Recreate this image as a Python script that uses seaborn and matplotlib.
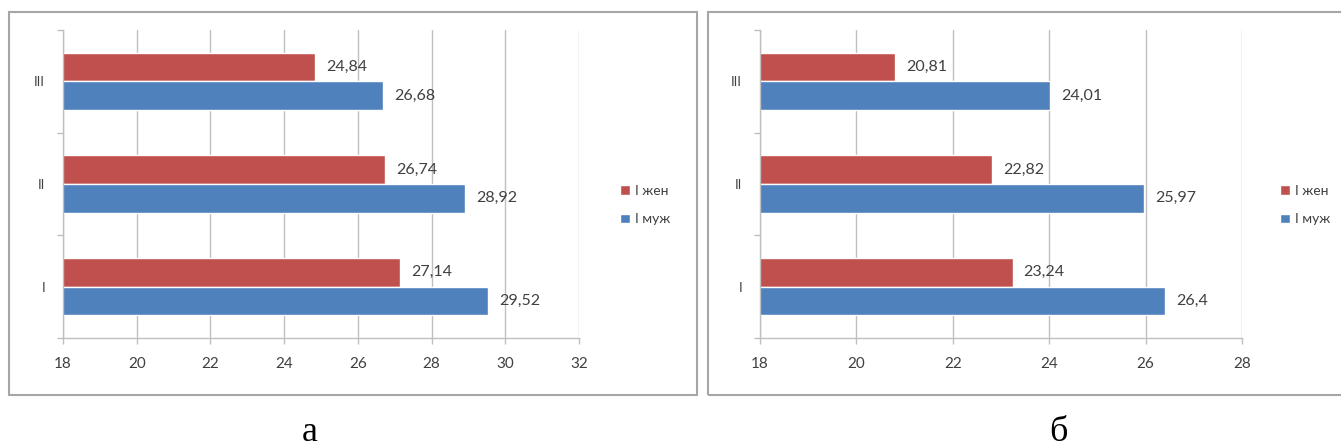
import matplotlib
matplotlib.use("Agg")
import matplotlib.pyplot as plt
import seaborn as sns
import pandas as pd
from matplotlib.patches import Rectangle
from matplotlib.ticker import FixedLocator

# ---- data ----
categories = ["III", "II", "I"]
series_names = ["I жен", "I муж"]
a_women = [24.84, 26.74, 27.14]
a_men = [26.68, 28.92, 29.52]
b_women = [20.81, 22.82, 23.24]
b_men = [24.01, 25.97, 26.4]
a_ticks = [18, 20, 22, 24, 26, 28, 30, 32]
b_ticks = [18, 20, 22, 24, 26, 28]
panel_labels = ["а", "б"]

RED = "#C0504D"
BLUE = "#4F81BD"
GRID = "#BFBFBF"
TXT = "#404040"

sns.set_theme(style="white")
plt.rcParams["font.family"] = ["Lato", "DejaVu Sans"]

W, H = 1341, 448
fig = plt.figure(figsize=(W / 100, H / 100), dpi=100)


def fx(px):
    return px / W


def fy(py):
    return 1 - py / H


def make_df(women, men):
    rows = []
    for c, w, m in zip(categories, women, men):
        rows.append({"cat": c, "series": series_names[0], "value": w})
        rows.append({"cat": c, "series": series_names[1], "value": m})
    return pd.DataFrame(rows)


def fmt(v):
    return ("%g" % v).replace(".", ",")


panels = [
    dict(women=a_women, men=a_men, ticks=a_ticks, ax_l=63, ax_r=579,
         box=(9, 12, 697, 395), leg_x=620, lab_x=310),
    dict(women=b_women, men=b_men, ticks=b_ticks, ax_l=760, ax_r=1242,
         box=(708, 12, 1350, 395), leg_x=1280, lab_x=1058),
]

for i, p in enumerate(panels):
    x0, y0, x1, y1 = p["box"]
    fig.patches.append(Rectangle((fx(x0), fy(y1)), fx(x1 - x0), (y1 - y0) / H,
                                 transform=fig.transFigure, fill=False,
                                 edgecolor="#A6A6A6", linewidth=1.5))
    ax_top, ax_bot = 30, 338
    ax = fig.add_axes([fx(p["ax_l"]), fy(ax_bot), fx(p["ax_r"] - p["ax_l"]),
                       (ax_bot - ax_top) / H])
    df = make_df(p["women"], p["men"])
    sns.barplot(data=df, y="cat", x="value", hue="series", order=categories,
                hue_order=series_names, palette=[RED, BLUE], orient="h",
                width=0.56, ax=ax, saturation=1, legend=True)
    ax.set_xlim(p["ticks"][0], p["ticks"][-1])
    ax.set_ylim(2.5, -0.5)
    ax.set_xticks(p["ticks"])
    ax.set_xticklabels([str(t) for t in p["ticks"]], fontsize=11, color=TXT)
    ax.set_yticklabels(categories, fontsize=9.5, color=TXT)
    ax.set_xlabel("")
    ax.set_ylabel("")
    ax.grid(axis="x", color=GRID, linewidth=1)
    ax.set_axisbelow(True)
    for s in ["top", "right"]:
        ax.spines[s].set_visible(False)
    for s in ["left", "bottom"]:
        ax.spines[s].set_color(GRID)
        ax.spines[s].set_linewidth(1)
    ax.tick_params(axis="x", direction="out", length=4, width=1, color=GRID,
                   pad=10, bottom=True)
    ax.tick_params(axis="y", which="major", length=0, pad=13)
    ax.yaxis.set_minor_locator(FixedLocator([-0.5, 0.5, 1.5, 2.5]))
    ax.tick_params(axis="y", which="minor", direction="out", length=4,
                   width=1, color=GRID, left=True)
    vals = [p["women"], p["men"]]
    for cont, v in zip(ax.containers, vals):
        ax.bar_label(cont, labels=[fmt(x) for x in v], padding=8,
                     fontsize=11.5, color=TXT)
    handles, labels = ax.get_legend_handles_labels()
    ax.legend(handles, labels, loc="center left",
              bbox_to_anchor=(fx(p["leg_x"]), fy(205)),
              bbox_transform=fig.transFigure, frameon=False,
              borderpad=0, borderaxespad=0,
              handlelength=0.7, handleheight=0.7, handletextpad=0.35,
              labelspacing=1.2, fontsize=10, labelcolor=TXT)
    fig.text(fx(p["lab_x"]), fy(441), panel_labels[i], ha="center",
             va="baseline", fontsize=26, family="Liberation Serif",
             color="black")

fig.savefig("out.png", dpi=100)
